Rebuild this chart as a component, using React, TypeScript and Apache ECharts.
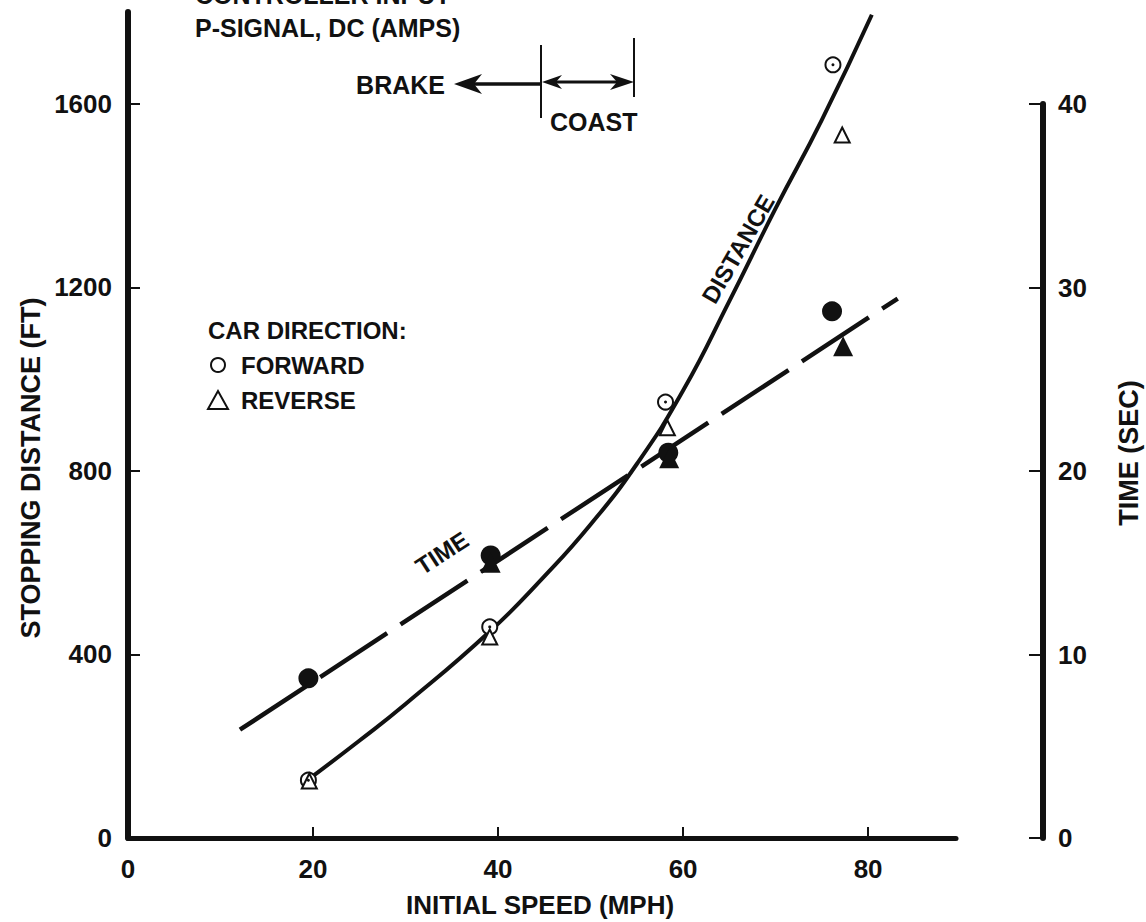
import React, { useEffect, useRef } from "react";
import * as echarts from "echarts";

// ---- data ----
const speedTicks = [0, 20, 40, 60, 80];
const distTicks = [0, 400, 800, 1200, 1600];
const timeTicks = [0, 10, 20, 30, 40];

// fitted distance curve (speed mph, distance ft)
const distanceCurve: [number, number][] = [
  [19.4, 126],
  [25, 212],
  [30, 292],
  [39.1, 450],
  [45, 570],
  [50, 683],
  [55, 815],
  [60, 975],
  [65, 1170],
  [70, 1372],
  [75, 1565],
  [80.4, 1794],
];
// fitted time line (speed mph, time sec)
const timeLine: [number, number][] = [
  [12.1, 5.9],
  [83.2, 29.4],
];
const forwardDistance: [number, number][] = [
  [19.5, 126],
  [39.1, 460],
  [58.1, 950],
  [76.2, 1685],
];
const reverseDistance: [number, number][] = [
  [19.6, 124],
  [39.1, 438],
  [58.3, 894],
  [77.2, 1532],
];
const forwardTime: [number, number][] = [
  [19.5, 8.7],
  [39.2, 15.4],
  [58.4, 21.0],
  [76.1, 28.7],
];
const reverseTime: [number, number][] = [
  [39.2, 15.0],
  [58.5, 20.7],
  [77.3, 26.8],
];

const FONT = "Liberation Sans, Arial, sans-serif";
const BLACK = "#111";

export default function App() {
  const ref = useRef<HTMLDivElement>(null);
  useEffect(() => {
    if (!ref.current) return;
    const chart = echarts.init(ref.current, undefined, { renderer: "svg" });
    const txt = (x: number, y: number, text: string, size: number, extra: any = {}) => ({
      type: "text",
      x,
      y,
      rotation: extra.rotation || 0,
      style: {
        text,
        fill: BLACK,
        font: `${extra.weight || "bold"} ${size}px ${FONT}`,
        textAlign: extra.align || "left",
        textVerticalAlign: "middle",
      },
    });
    const ln = (x1: number, y1: number, x2: number, y2: number, w = 2.5) => ({
      type: "line",
      shape: { x1, y1, x2, y2 },
      style: { stroke: BLACK, lineWidth: w },
    });
    const poly = (points: number[][]) => ({
      type: "polygon",
      shape: { points },
      style: { fill: BLACK },
    });
    const axisLabelStyle = {
      color: BLACK,
      fontFamily: FONT,
      fontWeight: "bold",
      fontSize: 26,
      formatter: (v: number) => String(v),
    };
    const option: any = {
      animation: false,
      backgroundColor: "#fff",
      grid: [
        { left: 128, top: 12, width: 828, height: 826 },
        { left: 128, top: 104, width: 828, height: 734 },
      ],
      xAxis: [
        {
          type: "value",
          gridIndex: 0,
          min: 0,
          max: 89.5,
          splitLine: { show: false },
          axisLine: { show: true, onZero: false, lineStyle: { color: BLACK, width: 5 } },
          axisTick: {
            show: true,
            inside: true,
            length: 11,
            customValues: speedTicks.slice(1),
            lineStyle: { color: BLACK, width: 2 },
          },
          axisLabel: { ...axisLabelStyle, margin: 18, customValues: speedTicks },
        },
        {
          type: "value",
          gridIndex: 1,
          min: 0,
          max: 89.5,
          show: false,
        },
      ],
      yAxis: [
        {
          type: "value",
          gridIndex: 0,
          min: 0,
          max: 1800,
          splitLine: { show: false },
          axisLine: { show: true, onZero: false, lineStyle: { color: BLACK, width: 6 } },
          axisTick: {
            show: true,
            inside: true,
            length: 12,
            customValues: distTicks.slice(1),
            lineStyle: { color: BLACK, width: 2 },
          },
          axisLabel: { ...axisLabelStyle, margin: 16, customValues: distTicks },
        },
        {
          type: "value",
          gridIndex: 1,
          position: "right",
          offset: 87,
          min: 0,
          max: 40,
          interval: 10,
          splitLine: { show: false },
          axisLine: { show: true, onZero: false, lineStyle: { color: BLACK, width: 6 } },
          axisTick: {
            show: true,
            inside: true,
            length: 14,
            customValues: timeTicks,
            lineStyle: { color: BLACK, width: 2 },
          },
          axisLabel: { ...axisLabelStyle, margin: 15, customValues: timeTicks },
        },
      ],
      series: [
        {
          type: "line",
          name: "DISTANCE",
          xAxisIndex: 0,
          yAxisIndex: 0,
          data: distanceCurve,
          smooth: 0.5,
          showSymbol: false,
          clip: false,
          lineStyle: { color: BLACK, width: 4 },
          z: 2,
        },
        {
          type: "line",
          name: "TIME",
          xAxisIndex: 1,
          yAxisIndex: 1,
          data: timeLine,
          showSymbol: false,
          clip: false,
          lineStyle: { color: BLACK, width: 4.5, type: [80, 16] },
          z: 2,
        },
        {
          type: "scatter",
          name: "FORWARD DISTANCE",
          xAxisIndex: 0,
          yAxisIndex: 0,
          data: forwardDistance,
          symbol: "circle",
          symbolSize: 15,
          itemStyle: { color: "#fff", borderColor: BLACK, borderWidth: 2, opacity: 1 },
          z: 3,
        },
        {
          type: "scatter",
          name: "FORWARD DISTANCE DOT",
          xAxisIndex: 0,
          yAxisIndex: 0,
          data: forwardDistance,
          symbol: "circle",
          symbolSize: 3,
          itemStyle: { color: BLACK, opacity: 1 },
          z: 4,
        },
        {
          type: "scatter",
          name: "REVERSE DISTANCE",
          xAxisIndex: 0,
          yAxisIndex: 0,
          data: reverseDistance,
          symbol: "triangle",
          symbolSize: 15,
          itemStyle: { color: "#fff", borderColor: BLACK, borderWidth: 2, opacity: 1 },
          z: 3,
        },
        {
          type: "scatter",
          name: "FORWARD TIME",
          xAxisIndex: 1,
          yAxisIndex: 1,
          data: forwardTime,
          symbol: "circle",
          symbolSize: 20,
          itemStyle: { color: BLACK, opacity: 1 },
          z: 3,
        },
        {
          type: "scatter",
          name: "REVERSE TIME",
          xAxisIndex: 1,
          yAxisIndex: 1,
          data: reverseTime,
          symbol: "triangle",
          symbolSize: 20,
          itemStyle: { color: BLACK, opacity: 1 },
          z: 3,
        },
      ],
      graphic: [
        txt(195, -5, "CONTROLLER INPUT", 25),
        txt(195, 28, "P-SIGNAL, DC (AMPS)", 25),
        txt(445, 85, "BRAKE", 25, { align: "right" }),
        ln(541, 84, 470, 84, 3.5),
        poly([[454, 84], [482, 74], [474, 84], [482, 94]]),
        ln(541, 45, 541, 118, 2),
        ln(634, 38, 634, 97, 2),
        ln(548, 82, 625, 82, 3),
        poly([[542, 82], [562, 75], [556, 82], [562, 89]]),
        poly([[634, 82], [610, 74], [617, 82], [610, 90]]),
        txt(550, 122, "COAST", 25),
        txt(208, 330, "CAR DIRECTION:", 24),
        {
          type: "circle",
          shape: { cx: 218, cy: 365, r: 7 },
          style: { fill: "none", stroke: BLACK, lineWidth: 2 },
        },
        txt(241, 365, "FORWARD", 24),
        {
          type: "polygon",
          shape: { points: [[218, 391], [208, 409], [228, 409]] },
          style: { fill: "none", stroke: BLACK, lineWidth: 2 },
        },
        txt(241, 400, "REVERSE", 24),
        txt(442, 553, "TIME", 24, { align: "center", rotation: (33 * Math.PI) / 180 }),
        txt(738, 249, "DISTANCE", 24, { align: "center", rotation: (60 * Math.PI) / 180 }),
        txt(31, 468, "STOPPING DISTANCE (FT)", 27, {
          align: "center",
          rotation: Math.PI / 2,
        }),
        txt(1129, 453, "TIME (SEC)", 27, { align: "center", rotation: Math.PI / 2 }),
        txt(540, 905, "INITIAL SPEED (MPH)", 26, { align: "center" }),
      ],
    };
    chart.setOption(option);
    return () => chart.dispose();
  }, []);
  return (
    <div
      ref={ref}
      style={{ position: "absolute", left: 0, top: 0, width: 1146, height: 922, background: "#fff" }}
    />
  );
}
